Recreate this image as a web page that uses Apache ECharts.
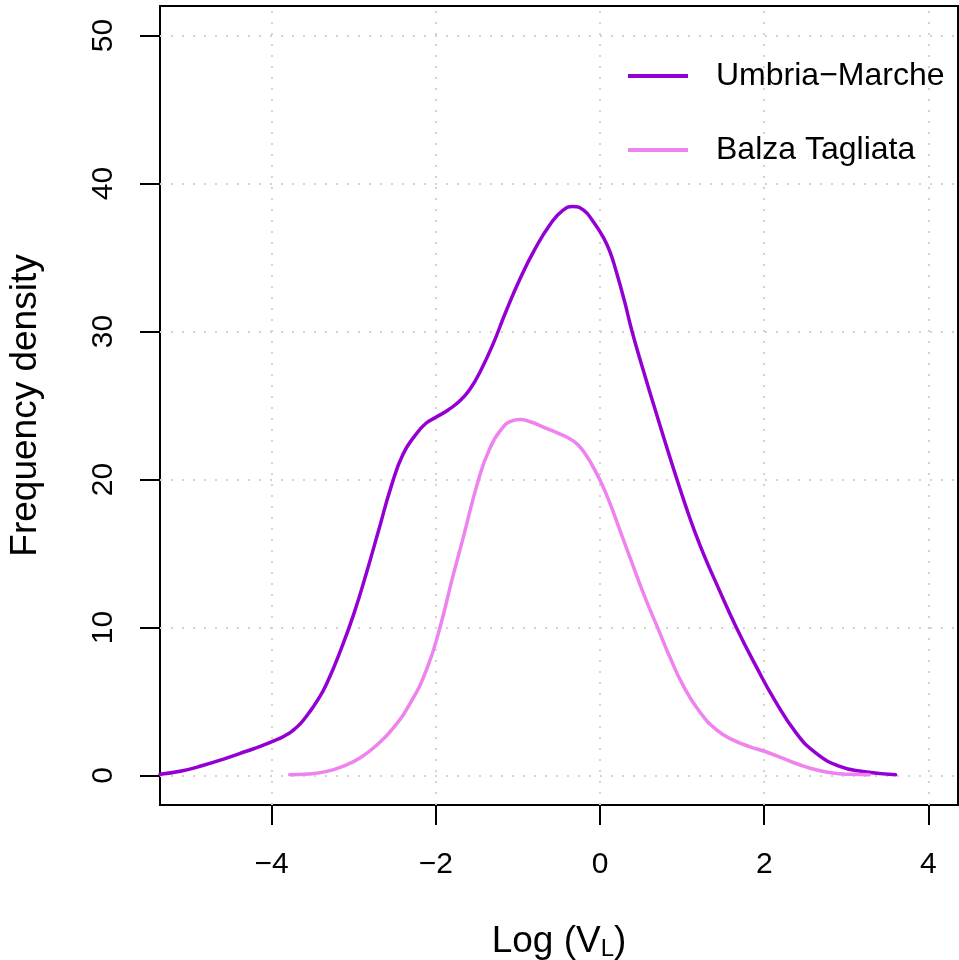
<!DOCTYPE html>
<html>
<head>
<meta charset="utf-8">
<script src="https://cdn.jsdelivr.net/npm/echarts@6/dist/echarts.min.js"></script>
<style>
  html, body { margin: 0; padding: 0; background: #fff; }
  #chart { width: 959px; height: 960px; }
</style>
</head>
<body>
<div id="chart"></div>
<script>
// ---- data ----
const xTicks = [-4, -2, 0, 2, 4];
const yTicks = [0, 10, 20, 30, 40, 50];
const seriesNames = ['Umbria\u2212Marche', 'Balza Tagliata'];
const seriesColors = ['#9400D3', '#EE82EE'];

const umbriaX = [-5.36, -5.1, -4.85, -4.55, -4.3, -4.14, -3.94, -3.85, -3.75, -3.65, -3.55, -3.45, -3.33, -3.15, -3.0, -2.85, -2.7, -2.54, -2.4, -2.25, -2.12, -2.0, -1.85, -1.71, -1.585, -1.45, -1.3, -1.15, -0.98, -0.8, -0.6, -0.45, -0.33, -0.2, -0.08, 0.036, 0.12, 0.2, 0.3, 0.39, 0.52, 0.645, 0.8, 0.937, 1.05, 1.152, 1.28, 1.416, 1.66, 1.903, 2.125, 2.39, 2.63, 2.92, 3.2, 3.6];
const umbriaY = [0.08, 0.3, 0.65, 1.17, 1.65, 1.96, 2.41, 2.65, 3.0, 3.5, 4.2, 5.0, 6.2, 8.6, 10.9, 13.6, 16.5, 19.6, 21.7, 23.0, 23.8, 24.2, 24.7, 25.3, 26.1, 27.4, 29.2, 31.3, 33.5, 35.5, 37.3, 38.2, 38.45, 38.2, 37.4, 36.4, 35.4, 34.0, 32.0, 30.0, 27.5, 25.2, 22.4, 20.0, 18.1, 16.5, 14.7, 12.98, 10.0, 7.35, 5.11, 2.86, 1.51, 0.61, 0.27, 0.05];

const balzaX = [-3.78, -3.55, -3.33, -3.13, -2.92, -2.72, -2.52, -2.31, -2.11, -1.95, -1.8, -1.67, -1.48, -1.35, -1.2, -1.08, -0.977, -0.85, -0.652, -0.5, -0.369, -0.27, -0.165, -0.07, 0.03, 0.12, 0.24, 0.40, 0.55, 0.70, 0.85, 1.01, 1.213, 1.416, 1.618, 1.82, 2.02, 2.23, 2.43, 2.63, 2.835, 3.05, 3.28];
const balzaY = [0.05, 0.1, 0.27, 0.62, 1.2, 2.05, 3.2, 4.9, 7.2, 10.0, 13.3, 16.0, 20.0, 22.0, 23.4, 23.95, 24.05, 23.9, 23.45, 23.1, 22.75, 22.35, 21.6, 20.7, 19.6, 18.4, 16.6, 14.2, 12.0, 10.0, 8.0, 6.1, 4.3, 3.1, 2.4, 1.95, 1.6, 1.15, 0.72, 0.38, 0.16, 0.07, 0.04];

const xRange = [-5.36, 4.36];
const yRange = [-2, 52];

// ---- chart ----
const FONT = 'Liberation Sans, Arial, Helvetica, sans-serif';
const zip = (xs, ys) => xs.map((x, i) => [x, ys[i]]);
const fmt = v => String(v).replace('-', '\u2212');

const chart = echarts.init(document.getElementById('chart'), null, { renderer: 'canvas' });

const gridLineStyle = { type: [2, 9], color: '#d3d3d3', width: 2 };

chart.setOption({
  animation: false,
  backgroundColor: '#ffffff',
  grid: {
    left: 160, right: 1, top: 6, bottom: 155,
    containLabel: false, outerBoundsMode: 'none',
    show: true, borderColor: '#000', borderWidth: 2, backgroundColor: 'transparent'
  },
  legend: {
    orient: 'vertical',
    left: 628, top: 60, padding: 0,
    itemWidth: 60, itemHeight: 4, itemGap: 42,
    icon: 'rect',
    data: seriesNames,
    textStyle: { fontSize: 32, color: '#000', fontFamily: FONT, padding: [0, 0, 0, 23] }
  },
  xAxis: {
    type: 'value', min: xRange[0], max: xRange[1],
    name: 'Log (V{sub|L})',
    nameLocation: 'middle', nameGap: 117,
    nameTextStyle: {
      fontSize: 37, color: '#000', fontFamily: FONT, lineHeight: 39,
      rich: { sub: { fontSize: 24, lineHeight: 23, verticalAlign: 'bottom', color: '#000', fontFamily: FONT } }
    },
    axisLine: { show: true, onZero: false, lineStyle: { color: '#000', width: 2 } },
    axisTick: { show: true, length: 20, lineStyle: { color: '#000', width: 2 }, customValues: xTicks },
    axisLabel: { show: true, fontSize: 30, color: '#000', fontFamily: FONT, margin: 45, formatter: fmt, customValues: xTicks },
    splitLine: { show: false }
  },
  yAxis: {
    type: 'value', min: yRange[0], max: yRange[1],
    name: 'Frequency density',
    nameLocation: 'middle', nameGap: 116, nameRotate: 90,
    nameTextStyle: { fontSize: 37, color: '#000', fontFamily: FONT },
    axisLine: { show: true, onZero: false, lineStyle: { color: '#000', width: 2 } },
    axisTick: { show: true, length: 20, lineStyle: { color: '#000', width: 2 }, customValues: yTicks },
    axisLabel: { show: true, rotate: 90, fontSize: 30, color: '#000', fontFamily: FONT, margin: 41, formatter: fmt, customValues: yTicks },
    splitLine: { show: false }
  },
  series: [
    {
      type: 'line', name: '__grid', data: [], z: 1, silent: true,
      markLine: {
        silent: true, symbol: 'none', animation: false, z: 1,
        label: { show: false },
        lineStyle: gridLineStyle,
        data: xTicks.map(v => ({ xAxis: v })).concat(yTicks.map(v => ({ yAxis: v })))
      }
    },
    {
      type: 'line', name: seriesNames[0], data: zip(umbriaX, umbriaY),
      z: 3, showSymbol: false, symbol: 'none', smooth: 0.5,
      lineStyle: { color: seriesColors[0], width: 3.5, cap: 'round', join: 'round' },
      itemStyle: { color: seriesColors[0] }
    },
    {
      type: 'line', name: seriesNames[1], data: zip(balzaX, balzaY),
      z: 3, showSymbol: false, symbol: 'none', smooth: 0.5,
      lineStyle: { color: seriesColors[1], width: 3.5, cap: 'round', join: 'round' },
      itemStyle: { color: seriesColors[1] }
    }
  ]
});
</script>
</body>
</html>
